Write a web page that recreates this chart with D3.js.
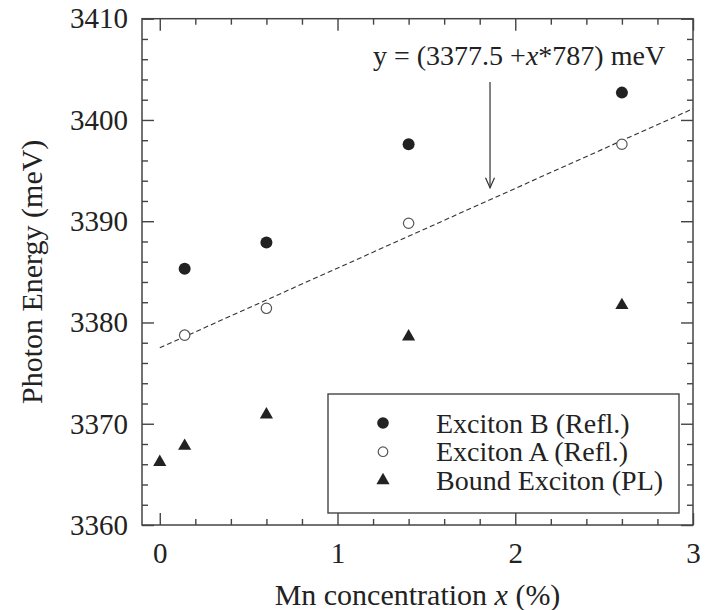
<!DOCTYPE html>
<html>
<head>
<meta charset="utf-8">
<script src="https://cdn.jsdelivr.net/npm/d3@7"></script>
<style>
  body { margin: 0; background: #fff; }
  svg text { font-family: "Liberation Serif", "DejaVu Serif", "Times New Roman", Times, serif; fill: #222; }
</style>
</head>
<body>
<div id="chart"></div>
<script>
const concX = [0.14, 0.6, 1.4, 2.6];
const excitonB = [3385.3, 3387.9, 3397.6, 3402.7];
const excitonA = [3378.75, 3381.4, 3389.8, 3397.6];
const boundX = [0, 0.14, 0.6, 1.4, 2.6];
const boundE = [3366.2, 3367.8, 3370.9, 3378.6, 3381.7];
const fitIntercept = 3377.5;
const fitSlope = 7.87;          // meV per %
const fitRange = [0, 3];
const arrowX = 1.858;
const arrowY = [3403.75, 3393.3];
const xTicks = [0, 1, 2, 3];
const yTicks = [3360, 3370, 3380, 3390, 3400, 3410];
const legendLabels = ['Exciton B (Refl.)', 'Exciton A (Refl.)', 'Bound Exciton (PL)'];

const W = 709, H = 610;
const plot = { left: 142, right: 693, top: 18.7, bottom: 525 };
const ink = '#222';
const axisColor = '#444';
const serif = '"Liberation Serif", "DejaVu Serif", "Times New Roman", Times, serif';

const svg = d3.select('#chart').append('svg')
    .attr('width', W)
    .attr('height', H)
    .attr('font-family', serif);

const x = d3.scaleLinear().domain([-0.1, 3]).range([plot.left, plot.right]);
const y = d3.scaleLinear().domain([3360, 3410]).range([plot.bottom, plot.top]);

const xMinor = d3.range(0, 3.0001, 0.2).filter(v => Math.abs(v - Math.round(v)) > 1e-6);
const yMinor = d3.range(3360, 3410.001, 2).filter(v => v % 10 !== 0);

// frame ticks, all pointing inward
const addAxis = (axis, transform, labels) => {
    const g = svg.append('g').attr('transform', transform).call(axis);
    g.attr('font-family', serif).attr('font-size', 29);
    g.select('.domain').remove();
    g.selectAll('line').attr('stroke', axisColor).attr('stroke-width', 1.4);
    g.selectAll('text').attr('fill', ink);
    if (!labels) g.selectAll('text').remove();
    return g;
};

addAxis(d3.axisBottom(x).tickValues(xTicks).tickSize(-12).tickPadding(17).tickFormat(d3.format('d')),
    `translate(0,${plot.bottom})`, true);
addAxis(d3.axisBottom(x).tickValues(xMinor).tickSize(-6), `translate(0,${plot.bottom})`, false);
addAxis(d3.axisTop(x).tickValues(xTicks).tickSize(-12), `translate(0,${plot.top})`, false);
addAxis(d3.axisTop(x).tickValues(xMinor).tickSize(-6), `translate(0,${plot.top})`, false);
addAxis(d3.axisLeft(y).tickValues(yTicks).tickSize(-12).tickPadding(14).tickFormat(d3.format('d')),
    `translate(${plot.left},0)`, true);
addAxis(d3.axisLeft(y).tickValues(yMinor).tickSize(-6), `translate(${plot.left},0)`, false);
addAxis(d3.axisRight(y).tickValues(yTicks).tickSize(-12), `translate(${plot.right},0)`, false);
addAxis(d3.axisRight(y).tickValues(yMinor).tickSize(-6), `translate(${plot.right},0)`, false);

svg.append('rect')
    .attr('x', plot.left).attr('y', plot.top)
    .attr('width', plot.right - plot.left).attr('height', plot.bottom - plot.top)
    .attr('fill', 'none').attr('stroke', axisColor).attr('stroke-width', 1.5);

// fit line
svg.append('line')
    .attr('x1', x(fitRange[0])).attr('y1', y(fitIntercept + fitSlope * fitRange[0]))
    .attr('x2', x(fitRange[1])).attr('y2', y(fitIntercept + fitSlope * fitRange[1]))
    .attr('stroke', '#333').attr('stroke-width', 1.1)
    .attr('stroke-dasharray', '5 3');

// arrow
const ax = x(arrowX), ay0 = y(arrowY[0]), ay1 = y(arrowY[1]);
svg.append('line')
    .attr('x1', ax).attr('y1', ay0).attr('x2', ax).attr('y2', ay1)
    .attr('stroke', '#333').attr('stroke-width', 1.2);
svg.append('path')
    .attr('d', `M${ax - 4.5},${ay1 - 10}L${ax},${ay1}L${ax + 4.5},${ay1 - 10}`)
    .attr('fill', 'none').attr('stroke', '#333').attr('stroke-width', 1.2);

// equation
const eq = svg.append('text')
    .attr('x', 373).attr('y', 65)
    .attr('font-size', 28);
eq.append('tspan').text('y = (3377.5 +');
eq.append('tspan').attr('font-style', 'italic').text('x');
eq.append('tspan').text('*787) meV');

// markers
const triangle = d3.symbol().type(d3.symbolTriangle).size(75);

svg.append('g').selectAll('circle')
    .data(concX.map((c, i) => [c, excitonB[i]]))
    .join('circle')
    .attr('cx', d => x(d[0])).attr('cy', d => y(d[1]))
    .attr('r', 6).attr('fill', ink);

svg.append('g').selectAll('circle')
    .data(concX.map((c, i) => [c, excitonA[i]]))
    .join('circle')
    .attr('cx', d => x(d[0])).attr('cy', d => y(d[1]))
    .attr('r', 5.2).attr('fill', '#fff')
    .attr('stroke', '#555').attr('stroke-width', 1.2);

svg.append('g').selectAll('path')
    .data(boundX.map((c, i) => [c, boundE[i]]))
    .join('path')
    .attr('d', triangle)
    .attr('transform', d => `translate(${x(d[0])},${y(d[1])})`)
    .attr('fill', ink);

// legend
const legend = svg.append('g');
legend.append('rect')
    .attr('x', 328).attr('y', 394).attr('width', 351).attr('height', 119)
    .attr('fill', '#fff').attr('stroke', axisColor).attr('stroke-width', 1.4);

const rows = legend.selectAll('g.row')
    .data(legendLabels)
    .join('g')
    .attr('class', 'row')
    .attr('transform', (d, i) => `translate(0,${423 + i * 28.7})`);

rows.each(function (d, i) {
    const g = d3.select(this);
    if (i === 0) g.append('circle').attr('cx', 383).attr('cy', 0).attr('r', 5.8).attr('fill', ink);
    if (i === 1) g.append('circle').attr('cx', 383).attr('cy', 0).attr('r', 4.8)
        .attr('fill', '#fff').attr('stroke', '#555').attr('stroke-width', 1.2);
    if (i === 2) g.append('path').attr('d', triangle).attr('transform', 'translate(383,0)').attr('fill', ink);
    g.append('text')
        .attr('x', 436).attr('y', 9.5)
        .attr('font-size', 28)
        .text(d);
});

// axis titles
const xt = svg.append('text')
    .attr('x', (plot.left + plot.right) / 2).attr('y', 605)
    .attr('text-anchor', 'middle')
    .attr('font-size', 30);
xt.append('tspan').text('Mn concentration ');
xt.append('tspan').attr('font-style', 'italic').text('x');
xt.append('tspan').text(' (%)');

svg.append('text')
    .attr('transform', `translate(42,${(plot.top + plot.bottom) / 2}) rotate(-90)`)
    .attr('text-anchor', 'middle')
    .attr('font-size', 30)
    .text('Photon Energy (meV)');
</script>
</body>
</html>
